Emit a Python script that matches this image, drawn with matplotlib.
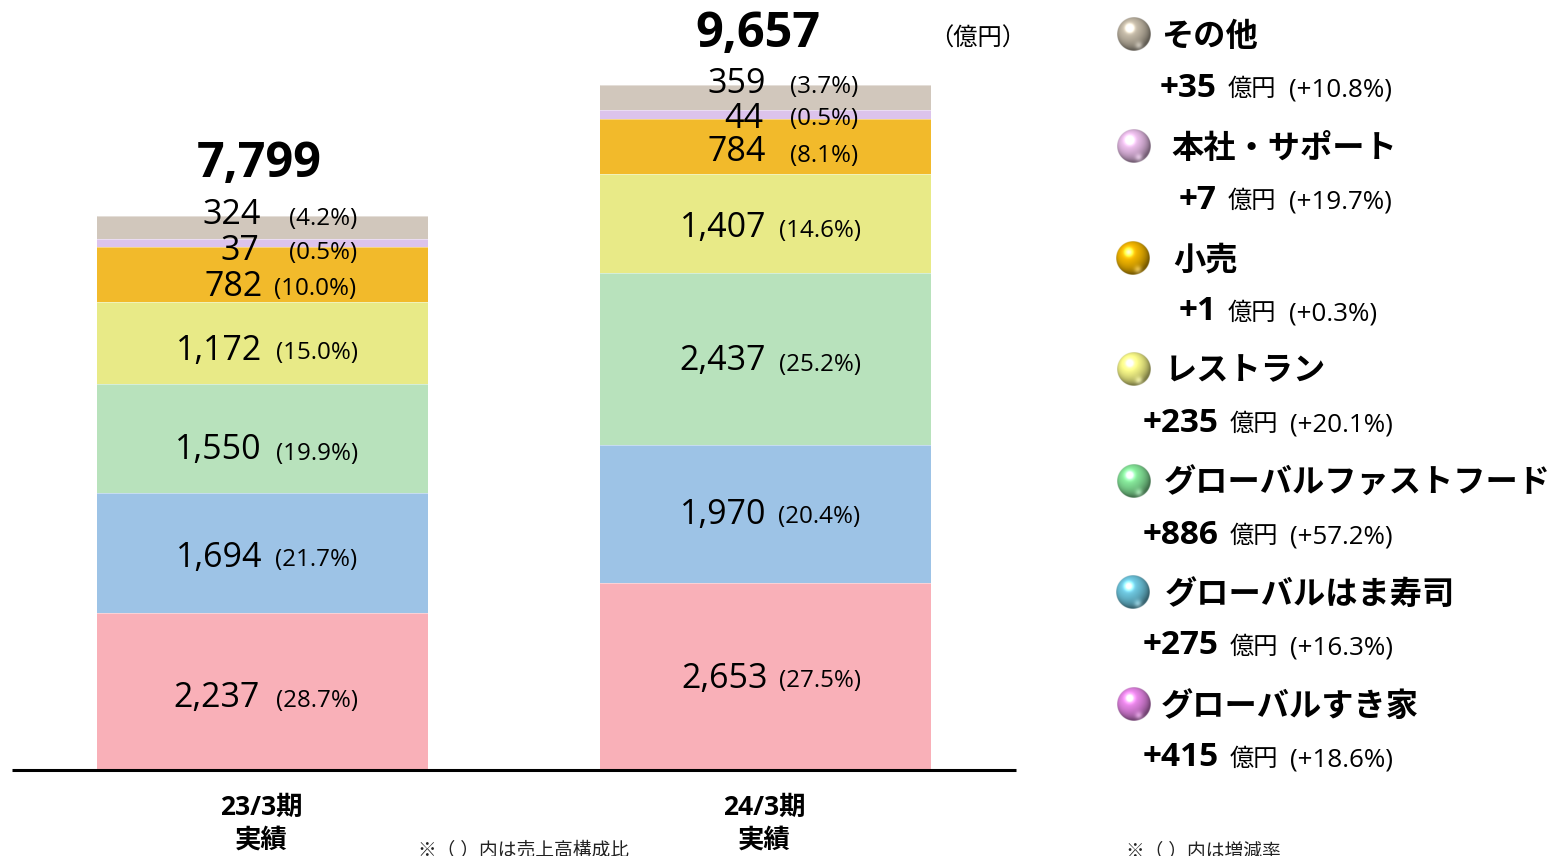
import numpy as np
import matplotlib
matplotlib.use("Agg")
import matplotlib.pyplot as plt
from matplotlib.colors import to_rgb

# ---- data ----
periods = ["23/3期\n実績", "24/3期\n実績"]
totals = ["7,799", "9,657"]
segments = ["グローバルすき家", "グローバルはま寿司", "グローバルファストフード",
            "レストラン", "小売", "本社・サポート", "その他"]
values_fy23 = [2237, 1694, 1550, 1172, 782, 37, 324]
values_fy24 = [2653, 1970, 2437, 1407, 784, 44, 359]
shares_fy23 = ["28.7", "21.7", "19.9", "15.0", "10.0", "0.5", "4.2"]
shares_fy24 = ["27.5", "20.4", "25.2", "14.6", "8.1", "0.5", "3.7"]
changes = ["+415", "+275", "+886", "+235", "+1", "+7", "+35"]
change_pct = ["+18.6", "+16.3", "+57.2", "+20.1", "+0.3", "+19.7", "+10.8"]

# ---- style / layout ----
bar_colors = ["#f9b0b8", "#9dc3e6", "#b8e2bc", "#e8ea87", "#f2ba2b", "#dcc3ec", "#d1c7bc"]
ball_colors = ["#e484e4", "#6cc4dc", "#84e498", "#f8f888", "#f0b400", "#e8bce8", "#c0b6a4"]
thin_segment_scale = [1, 1, 1, 1, 1, 2.8, 1]   # the reference draws the thin band wider than scale
FONT = ["Open Sans", "Noto Sans CJK JP", "DejaVu Sans"]
plt.rcParams["font.family"] = FONT

W, H = 1550, 856
fig = plt.figure(figsize=(W / 100, H / 100), dpi=100, facecolor="white")

base_px, top_px = 770, 85
px_per_unit = 0.0704
ax = fig.add_axes([0, 1 - base_px / H, 1, (base_px - top_px) / H])
ax.set_xlim(0, W)
ax.set_ylim(0, (base_px - top_px) / px_per_unit)
ax.axis("off")
centers = [262.5, 765.5]
bar_w = 331
for c, vals in zip(centers, [values_fy23, values_fy24]):
    bottom = 0
    for v, col, k in zip(vals, bar_colors, thin_segment_scale):
        ax.bar(c, v * k, width=bar_w, bottom=bottom, color=col, edgecolor="none")
        ax.plot([c - bar_w / 2, c + bar_w / 2], [bottom + v * k] * 2, color="white", lw=0.6, alpha=.5, zorder=3)
        bottom += v * k

ov = fig.add_axes([0, 0, 1, 1], facecolor="none")
ov.set_xlim(0, W)
ov.set_ylim(H, 0)
ov.axis("off")

ov.plot([12, 1016], [770, 770], color="black", lw=2.2, solid_capstyle="butt")

def T(x, y, s, size, ha="center", bold=False, color="black"):
    ov.text(x, y, s, fontsize=size, ha=ha, va="center", color=color,
            fontweight="bold" if bold else "normal", family=FONT, clip_on=False)

val_x23 = [259, 261, 261, 261, 262, 258, 260]
val_y23 = [698, 558, 450, 351, 287, 251, 215]
pct_x23 = [276, 275, 276, 276, 274, 289, 289]
pct_y23 = [701, 560, 454, 353, 289, 253, 219]
val_x24 = [767, 765, 765, 765, 765, 762, 765]
val_y24 = [679, 515, 361, 228, 152, 119, 84]
pct_x24 = [779, 778, 779, 779, 790, 790, 790]
pct_y24 = [681, 517, 365, 231, 156, 119, 87]
for i in range(7):
    T(val_x23[i] + 1, val_y23[i], f"{values_fy23[i]:,}", 24.5, ha="right")
    T(pct_x23[i], pct_y23[i], f"({shares_fy23[i]}%)", 17.4, ha="left")
    T(val_x24[i] + 1, val_y24[i], f"{values_fy24[i]:,}", 24.5, ha="right")
    T(pct_x24[i], pct_y24[i], f"({shares_fy24[i]}%)", 17.4, ha="left")

T(259, 164, totals[0], 35, bold=True)
T(758, 34, totals[1], 35, bold=True)
T(978, 40, "（億円）", 17.5)

for c, p in zip(centers, periods):
    a, b = p.split("\n")
    T(c - 1, 807, a, 19, bold=True)
    T(c - 1, 840, b, 19, bold=True)

T(418, 851, "※（ ）内は売上高構成比", 13.5, ha="left", color="#222222")
T(1126, 851, "※（ ）内は増減率", 13.5, ha="left", color="#222222")

ball_y = [704, 592, 481, 369, 258, 146, 34]
ball_x = [1134, 1133, 1134, 1134, 1133, 1134, 1134]
name_x = [1161, 1165, 1164, 1165, 1173, 1171, 1161]
amt_x = [1219, 1219, 1219, 1219, 1217, 1217, 1217]
unit_x = [1230, 1230, 1230, 1230, 1228, 1228, 1228]
pct_lx = [1290, 1290, 1290, 1290, 1289, 1289, 1289]

n = 120
yy, xx = np.mgrid[-1:1:n * 1j, -1:1:n * 1j]
rr = np.sqrt(xx**2 + yy**2)
for i in range(7):
    rgb = np.array(to_rgb(ball_colors[i]))
    nz = np.sqrt(np.clip(1 - rr**2, 0, 1))
    light = np.array([-0.3, -0.4, 0.86])
    diff = np.clip(xx * light[0] + yy * light[1] + nz * light[2], 0, 1)
    spec = 0.85 * np.exp(-(((xx + .25)**2 + (yy + .35)**2) / .05))
    rim = np.exp(-(((xx - .3)**2 + (yy - .7)**2) / .05)) * .3
    shade = (0.5 + 0.58 * diff)[..., None]
    img = np.clip(rgb * shade + (spec + rim)[..., None], 0, 1)
    alpha = np.clip((1 - rr) * n / 2, 0, 1)
    rgba = np.dstack([img, alpha])
    r = 17
    ov.imshow(rgba, extent=[ball_x[i] - r, ball_x[i] + r, ball_y[i] + r, ball_y[i] - r],
              aspect="auto", zorder=5, interpolation="bilinear")
    T(name_x[i], ball_y[i] + 3, segments[i], 23.2, ha="left", bold=True)
    T(amt_x[i], ball_y[i] + 54, changes[i], 24, ha="right", bold=True)
    T(unit_x[i], ball_y[i] + 56, "億円", 17.5, ha="left")
    T(pct_lx[i], ball_y[i] + 56, f"({change_pct[i]}%)", 18.7, ha="left")
ov.set_xlim(0, W)
ov.set_ylim(H, 0)

fig.savefig("out.png", dpi=100)
